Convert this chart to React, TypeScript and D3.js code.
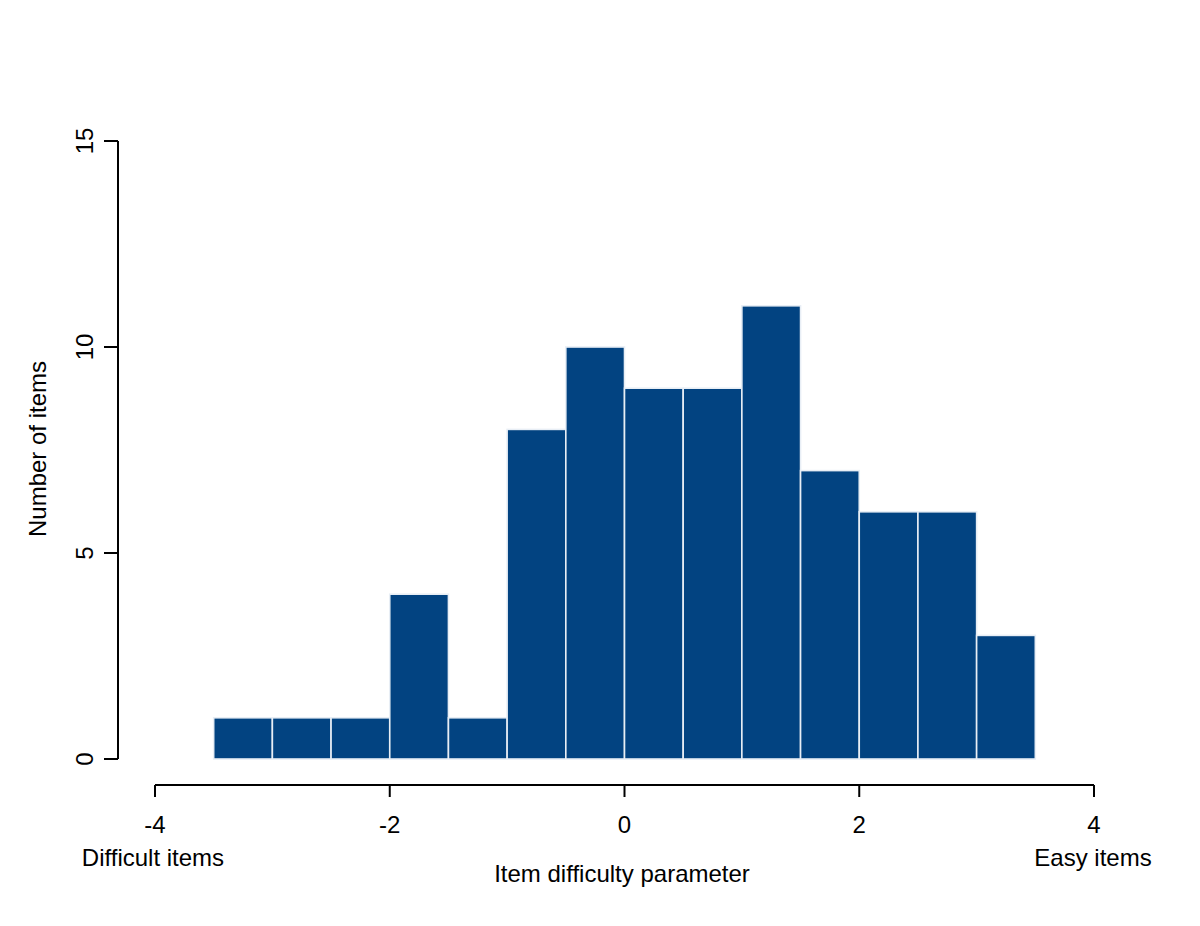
import React from "react";
import * as d3 from "d3";

const binStarts = [-3.5, -3, -2.5, -2, -1.5, -1, -0.5, 0, 0.5, 1, 1.5, 2, 2.5, 3];
const binWidth = 0.5;
const counts = [1, 1, 1, 4, 1, 8, 10, 9, 9, 11, 7, 6, 6, 3];
const xTicks = [-4, -2, 0, 2, 4];
const yTicks = [0, 5, 10, 15];

const W = 1200;
const H = 926;
const FONT = "Liberation Sans, Arial, Helvetica, sans-serif";

export default function App() {
  const x = d3.scaleLinear().domain([-4, 4]).range([155, 1094]);
  const y = d3.scaleLinear().domain([0, 15]).range([759, 141]);
  const axisY = 785;
  const axisX = 118;

  return (
    <svg width={W} height={H} style={{ display: "block", position: "absolute", left: 0, top: 0 }} fontFamily={FONT}>
      <rect width={W} height={H} fill="#fff" />
      {binStarts.map((s, i) => (
        <rect
          key={i}
          x={x(s)}
          y={y(counts[i])}
          width={x(s + binWidth) - x(s)}
          height={y(0) - y(counts[i])}
          fill="#024381"
          stroke="#e8eef5"
          strokeWidth={1.6}
        />
      ))}
      {/* y axis */}
      <line x1={axisX} x2={axisX} y1={y(15)} y2={y(0)} stroke="#000" strokeWidth={2} />
      {yTicks.map((t) => (
        <g key={t}>
          <line x1={axisX - 14} x2={axisX} y1={y(t)} y2={y(t)} stroke="#000" strokeWidth={2} />
          <text
            transform={`translate(${axisX - 25},${y(t)}) rotate(-90)`}
            textAnchor="middle"
            fontSize={24}
          >
            {t}
          </text>
        </g>
      ))}
      <text transform={`translate(46,449) rotate(-90)`} textAnchor="middle" fontSize={24}>
        Number of items
      </text>
      {/* x axis */}
      <line x1={x(-4)} x2={x(4)} y1={axisY} y2={axisY} stroke="#000" strokeWidth={2} />
      {xTicks.map((t) => (
        <g key={t}>
          <line x1={x(t)} x2={x(t)} y1={axisY} y2={axisY + 12} stroke="#000" strokeWidth={2} />
          <text x={x(t)} y={axisY + 48} textAnchor="middle" fontSize={24}>
            {t}
          </text>
        </g>
      ))}
      <text x={153} y={866} textAnchor="middle" fontSize={24}>Difficult items</text>
      <text x={1093} y={866} textAnchor="middle" fontSize={24}>Easy items</text>
      <text x={622} y={882} textAnchor="middle" fontSize={24}>Item difficulty parameter</text>
    </svg>
  );
}
